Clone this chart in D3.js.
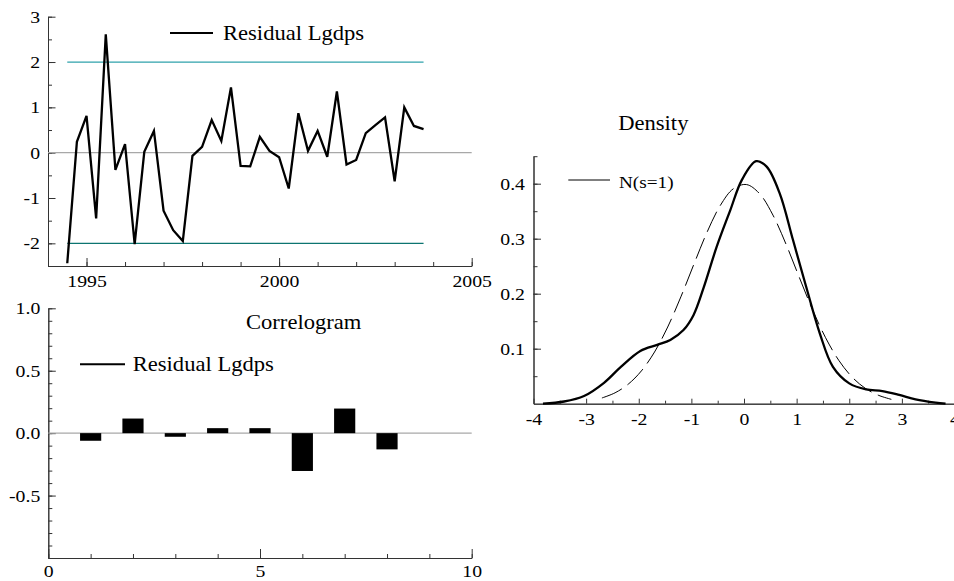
<!DOCTYPE html>
<html>
<head>
<meta charset="utf-8">
<script src="https://cdn.jsdelivr.net/npm/d3@7"></script>
<style>
  html, body { margin: 0; padding: 0; background: #fff; }
  svg { display: block; }
  text { font-family: "Liberation Serif", "Times New Roman", serif; fill: #000; }
</style>
</head>
<body>
<svg id="chart" width="954" height="581"></svg>
<script>
// ---- Residuals (quarterly, starting 1994 Q3) ----
const residualStart = 1994.5;          // first observation (year + fraction)
const residualStep = 0.25;             // quarterly
const residuals = [
  -2.44, 0.24, 0.81, -1.45, 2.61, -0.38, 0.19, -2.02, 0.02, 0.48,
  -1.28, -1.71, -1.95, -0.07, 0.13, 0.72, 0.26, 1.44, -0.29, -0.30,
  0.35, 0.04, -0.10, -0.79, 0.87, 0.04, 0.48, -0.09, 1.35, -0.26,
  -0.16, 0.43, 0.61, 0.78, -0.63, 1.00, 0.59, 0.52
];
const bandLevels = [2, -2];
const residualYTicks = [-2, -1, 0, 1, 2, 3];
const residualXTicks = [1995, 2000, 2005];

// ---- Correlogram ----
const lags = [1, 2, 3, 4, 5, 6, 7, 8];
const acf = [-0.061, 0.117, -0.029, 0.040, 0.040, -0.303, 0.197, -0.130];
const acfYTicks = [-0.5, 0.0, 0.5, 1.0];
const acfXTicks = [0, 5, 10];

// ---- Density: kernel estimate of residuals and N(0,1) reference ----
const kdeX = [-3.82, -3.42, -3.04, -2.66, -2.34, -1.97, -1.65, -1.40, -1.15, -0.96,
              -0.77, -0.52, -0.26, -0.04, 0.23, 0.43, 0.68, 0.93, 1.18, 1.44,
              1.69, 2.00, 2.32, 2.63, 2.95, 3.26, 3.64, 3.83];
const kdeY = [0.000, 0.004, 0.014, 0.038, 0.067, 0.096, 0.107, 0.116, 0.134, 0.161,
              0.210, 0.285, 0.352, 0.407, 0.441, 0.431, 0.382, 0.298, 0.213, 0.128,
              0.067, 0.037, 0.026, 0.023, 0.016, 0.008, 0.002, 0.000];
const normX = [-2.70, -2.45, -2.20, -1.95, -1.70, -1.45, -1.20, -0.95, -0.70, -0.45,
               -0.20, 0.05, 0.30, 0.55, 0.80, 1.05, 1.30, 1.55, 1.80, 2.05,
               2.30, 2.55, 2.80];
const normY = [0.0104, 0.0198, 0.0355, 0.0596, 0.0940, 0.1394, 0.1942, 0.2541, 0.3123, 0.3605,
               0.3910, 0.3984, 0.3814, 0.3429, 0.2897, 0.2299, 0.1714, 0.1200, 0.0790, 0.0488,
               0.0283, 0.0155, 0.0079];
const densYTicks = [0.1, 0.2, 0.3, 0.4];
const densXTicks = [-4, -3, -2, -1, 0, 1, 2, 3, 4];

const svg = d3.select("#chart");
const AXIS = "#333";
const TICK_FONT = 17.5;

function styleAxis(g) {
  g.attr("font-family", null);
  g.select(".domain").attr("stroke", AXIS).attr("stroke-width", 1);
  g.selectAll(".tick line").attr("stroke", AXIS).attr("stroke-width", 1);
  g.selectAll(".tick text").attr("font-size", TICK_FONT);
}

const minus = s => s.replace("\u2212", "-");

// ================= Panel 1: residual series =================
{
  const x = d3.scaleLinear().domain([1994, 2005]).range([48, 471.7]);
  const y = d3.scaleLinear().domain([-2.5, 3]).range([266, 16.7]);
  const g = svg.append("g");

  // minor ticks
  g.append("g").attr("transform", `translate(${x.range()[0]},0)`)
    .call(d3.axisLeft(y).tickValues(d3.range(-2.5, 3.01, 0.5)).tickSize(-4).tickSizeOuter(0).tickFormat(""))
    .call(styleAxis);
  g.append("g").attr("transform", `translate(0,${y.range()[0]})`)
    .call(d3.axisBottom(x).tickValues(d3.range(1994, 2005.01, 1)).tickSize(-4).tickSizeOuter(0).tickFormat(""))
    .call(styleAxis);
  // major ticks + labels
  g.append("g").attr("transform", `translate(${x.range()[0]},0)`)
    .call(d3.axisLeft(y).tickValues(residualYTicks).tickSize(-7.5).tickSizeOuter(0).tickPadding(8).tickFormat(d => minus(String(d))))
    .call(styleAxis);
  g.append("g").attr("transform", `translate(0,${y.range()[0]})`)
    .call(d3.axisBottom(x).tickValues(residualXTicks).tickSize(-8).tickSizeOuter(0).tickPadding(9).tickFormat(d => String(d)))
    .call(styleAxis);

  // zero line
  g.append("line")
    .attr("x1", x.range()[0]).attr("x2", x.range()[1])
    .attr("y1", y(0)).attr("y2", y(0))
    .attr("stroke", "#a8a8a8").attr("stroke-width", 1.2);

  // +/- 2 reference bands
  const t0 = residualStart, t1 = residualStart + (residuals.length - 1) * residualStep;
  g.selectAll("line.band").data(bandLevels).join("line")
    .attr("class", "band")
    .attr("x1", x(t0)).attr("x2", x(t1))
    .attr("y1", d => y(d)).attr("y2", d => y(d))
    .attr("stroke", d => d > 0 ? "#2fa2ab" : "#0c7470")
    .attr("stroke-width", 1.3);

  // residual line
  const line = d3.line()
    .x((d, i) => x(residualStart + i * residualStep))
    .y(d => y(d));
  g.append("path").datum(residuals)
    .attr("d", line)
    .attr("fill", "none").attr("stroke", "#000").attr("stroke-width", 2.3)
    .attr("stroke-linejoin", "miter");

  // legend
  g.append("line").attr("x1", 170).attr("x2", 213).attr("y1", 33).attr("y2", 33)
    .attr("stroke", "#000").attr("stroke-width", 2);
  g.append("text").attr("x", 223).attr("y", 40.5).attr("font-size", 20).text("Residual Lgdps");
}

// ================= Panel 2: correlogram =================
{
  const x = d3.scaleLinear().domain([0, 10]).range([48.3, 471.7]);
  const y = d3.scaleLinear().domain([-1, 1]).range([558, 308.3]);
  const g = svg.append("g");

  g.append("g").attr("transform", `translate(${x.range()[0]},0)`)
    .call(d3.axisLeft(y).tickValues(d3.range(-1, 1.001, 0.1).map(v => +v.toFixed(2))).tickSize(-4).tickSizeOuter(0).tickFormat(""))
    .call(styleAxis);
  g.append("g").attr("transform", `translate(0,${y.range()[0]})`)
    .call(d3.axisBottom(x).tickValues(d3.range(0, 10.01, 1)).tickSize(-4).tickSizeOuter(0).tickFormat(""))
    .call(styleAxis);
  g.append("g").attr("transform", `translate(${x.range()[0]},0)`)
    .call(d3.axisLeft(y).tickValues(acfYTicks).tickSize(-7.5).tickSizeOuter(0).tickPadding(8).tickFormat(d => minus(d3.format(".1f")(d))))
    .call(styleAxis);
  g.append("g").attr("transform", `translate(0,${y.range()[0]})`)
    .call(d3.axisBottom(x).tickValues(acfXTicks).tickSize(-9).tickSizeOuter(0).tickPadding(6.5).tickFormat(d => String(d)))
    .call(styleAxis);

  g.append("line")
    .attr("x1", x.range()[0]).attr("x2", x.range()[1])
    .attr("y1", y(0)).attr("y2", y(0))
    .attr("stroke", "#a8a8a8").attr("stroke-width", 1.2);

  const barW = 0.5;
  g.selectAll("rect.bar").data(lags.map((l, i) => ({ lag: l, v: acf[i] }))).join("rect")
    .attr("class", "bar")
    .attr("x", d => x(d.lag - barW / 2))
    .attr("width", d => x(d.lag + barW / 2) - x(d.lag - barW / 2))
    .attr("y", d => y(Math.max(0, d.v)))
    .attr("height", d => Math.abs(y(d.v) - y(0)))
    .attr("fill", "#000");

  g.append("text").attr("x", 303.7).attr("y", 329.3).attr("font-size", 20)
    .attr("text-anchor", "middle").text("Correlogram");
  g.append("line").attr("x1", 80).attr("x2", 125).attr("y1", 364.3).attr("y2", 364.3)
    .attr("stroke", "#000").attr("stroke-width", 2);
  g.append("text").attr("x", 132.7).attr("y", 370.7).attr("font-size", 20).text("Residual Lgdps");
}

// ================= Panel 3: density =================
{
  const x = d3.scaleLinear().domain([-4, 4]).range([533.5, 954.5]);
  const y = d3.scaleLinear().domain([0, 0.45]).range([403.7, 156.2]);
  const g = svg.append("g");

  g.append("g").attr("transform", `translate(${x.range()[0]},0)`)
    .call(d3.axisLeft(y).tickValues(d3.range(0.05, 0.451, 0.05).map(v => +v.toFixed(2))).tickSize(-4).tickSizeOuter(0).tickFormat(""))
    .call(styleAxis);
  g.append("g").attr("transform", `translate(0,${y.range()[0]})`)
    .call(d3.axisBottom(x).tickValues(d3.range(-3.5, 4, 1)).tickSize(-3).tickSizeOuter(0).tickFormat(""))
    .call(styleAxis);
  g.append("g").attr("transform", `translate(${x.range()[0]},0)`)
    .call(d3.axisLeft(y).tickValues(densYTicks).tickSize(-7.5).tickSizeOuter(0).tickPadding(8.5).tickFormat(d => d3.format(".1f")(d)))
    .call(styleAxis);
  g.append("g").attr("transform", `translate(0,${y.range()[0]})`)
    .call(d3.axisBottom(x).tickValues(densXTicks).tickSize(-5).tickSizeOuter(0).tickPadding(9.3).tickFormat(d => minus(String(d))))
    .call(styleAxis);

  const curve = d3.line().x(d => x(d[0])).y(d => y(d[1])).curve(d3.curveCatmullRom.alpha(0.5));

  g.append("path").datum(normX.map((v, i) => [v, normY[i]]))
    .attr("d", curve)
    .attr("fill", "none").attr("stroke", "#000").attr("stroke-width", 1)
    .attr("stroke-dasharray", "22,7");

  g.append("path").datum(kdeX.map((v, i) => [v, kdeY[i]]))
    .attr("d", curve)
    .attr("fill", "none").attr("stroke", "#000").attr("stroke-width", 2.3);

  g.append("text").attr("x", 653.3).attr("y", 130).attr("font-size", 20)
    .attr("text-anchor", "middle").text("Density");
  g.append("line").attr("x1", 568.3).attr("x2", 610).attr("y1", 180).attr("y2", 180)
    .attr("stroke", "#000").attr("stroke-width", 1);
  g.append("text").attr("x", 619).attr("y", 188.3).attr("font-size", 17).text("N(s=1)");
}

// Widen glyphs horizontally about each text's anchor point
const STRETCH = 1.13;
svg.selectAll("text").each(function () {
  const t = d3.select(this);
  const ax = +t.attr("x") || 0;
  t.attr("transform", `translate(${ax},0) scale(${STRETCH},1) translate(${-ax},0)`);
});
</script>
</body>
</html>
